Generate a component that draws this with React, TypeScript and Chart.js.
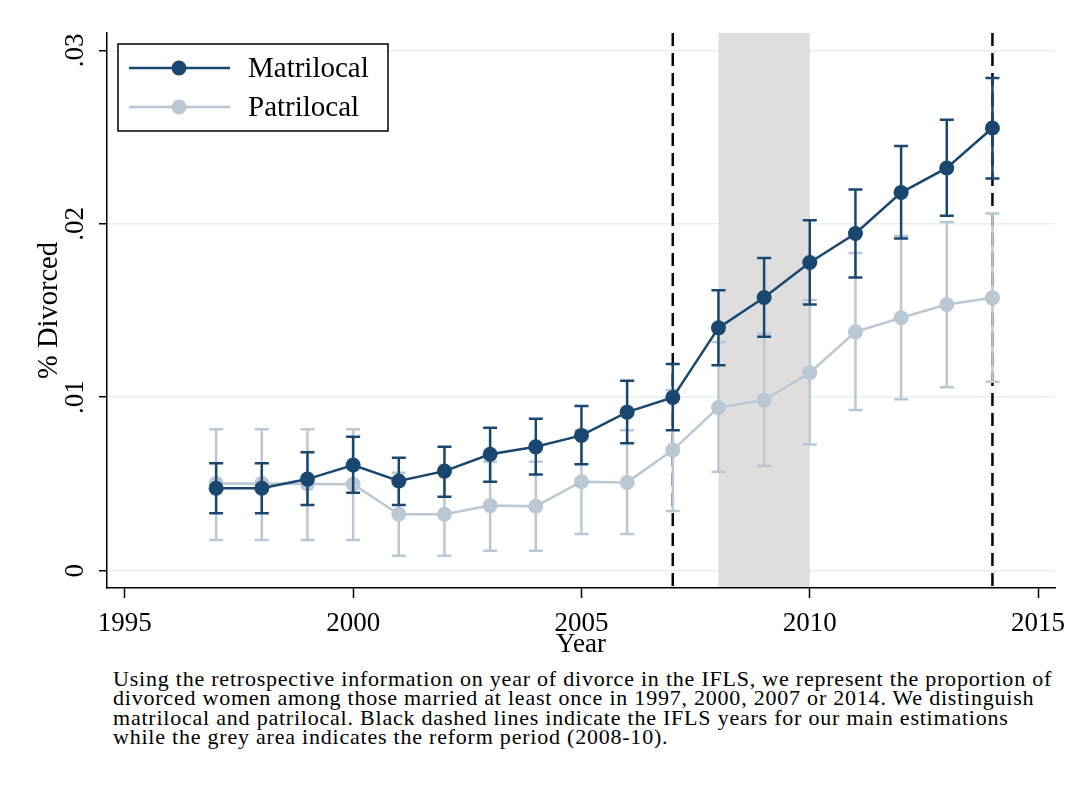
import React, { useEffect, useRef } from 'react';
import { Chart, registerables } from 'chart.js';

Chart.register(...registerables);

// ---------- data ----------
const years = [1997, 1998, 1999, 2000, 2001, 2002, 2003, 2004, 2005, 2006, 2007, 2008, 2009, 2010, 2011, 2012, 2013, 2014];

const matrilocal = [0.00475, 0.00475, 0.00528, 0.00609, 0.00517, 0.00574, 0.00671, 0.00714, 0.0078, 0.00914, 0.00999, 0.014, 0.01575, 0.01777, 0.01944, 0.0218, 0.02322, 0.02552];
const matrilocalLow = [0.00331, 0.00331, 0.00379, 0.00449, 0.00379, 0.00426, 0.00513, 0.00555, 0.00613, 0.00734, 0.0081, 0.01185, 0.01348, 0.01535, 0.0169, 0.01915, 0.02047, 0.02261];
const matrilocalHigh = [0.00619, 0.00619, 0.00682, 0.00772, 0.00651, 0.00714, 0.00824, 0.00876, 0.0095, 0.01095, 0.01191, 0.01617, 0.01803, 0.0202, 0.02197, 0.02449, 0.026, 0.0284];

const patrilocal = [0.00503, 0.00503, 0.005, 0.00498, 0.00325, 0.00325, 0.00375, 0.00372, 0.00513, 0.00509, 0.00695, 0.00941, 0.00983, 0.01141, 0.01377, 0.01458, 0.01535, 0.01573];
const patrilocalLow = [0.00177, 0.00177, 0.00177, 0.00177, 0.00086, 0.00086, 0.00115, 0.00115, 0.00211, 0.00211, 0.00344, 0.0057, 0.00603, 0.00728, 0.00926, 0.00989, 0.01057, 0.01089];
const patrilocalHigh = [0.00816, 0.00816, 0.00816, 0.00816, 0.00565, 0.00565, 0.00628, 0.00628, 0.0081, 0.0081, 0.01041, 0.01319, 0.01368, 0.0156, 0.01832, 0.0193, 0.0201, 0.02059];

const xTickValues = [1995, 2000, 2005, 2010, 2015];
const yTickValues = [0, 0.01, 0.02, 0.03];
const yTickLabels = ['0', '.01', '.02', '.03'];

const iflsYears = [2007, 2014];
const reformPeriod = [2008, 2010];

const seriesLabels = ['Matrilocal', 'Patrilocal'];

const captionLines = [
  'Using the retrospective information on year of divorce in the IFLS, we represent the proportion of',
  'divorced women among those married at least once in 1997, 2000, 2007 or 2014. We distinguish',
  'matrilocal and patrilocal. Black dashed lines indicate the IFLS years for our main estimations',
  'while the grey area indicates the reform period (2008-10).',
];

// ---------- style ----------
const NAVY = '#1a476f';
const LIGHT = '#bac8d4';
const FONT = '"Liberation Serif", "Times New Roman", serif';

const errLow = [matrilocalLow, patrilocalLow];
const errHigh = [matrilocalHigh, patrilocalHigh];

const overlayPlugin = {
  id: 'overlay',
  beforeDatasetsDraw(chart: any) {
    const { ctx, chartArea, scales } = chart;
    const x = scales.x;
    ctx.save();
    const x0 = x.getPixelForValue(reformPeriod[0]);
    const x1 = x.getPixelForValue(reformPeriod[1]);
    ctx.fillStyle = '#dedede';
    ctx.fillRect(x0, chartArea.top, x1 - x0, chartArea.bottom - chartArea.top - 1);
    ctx.strokeStyle = '#000';
    ctx.lineWidth = 2.5;
    ctx.setLineDash([13, 7]);
    for (const yr of iflsYears) {
      const px = x.getPixelForValue(yr);
      ctx.beginPath();
      ctx.moveTo(px, chartArea.top);
      ctx.lineTo(px, chartArea.bottom);
      ctx.stroke();
    }
    ctx.restore();
  },
  beforeDatasetDraw(chart: any, args: any) {
    const i = args.index;
    const { ctx, scales } = chart;
    const x = scales.x;
    const y = scales.y;
    const ds = chart.data.datasets[i];
    ctx.save();
    ctx.strokeStyle = ds.borderColor;
    ctx.lineWidth = 2.5;
    ctx.setLineDash([]);
    const half = 7;
    years.forEach((yr, k) => {
      const px = x.getPixelForValue(yr);
      const pl = y.getPixelForValue(errLow[i][k]);
      const ph = y.getPixelForValue(errHigh[i][k]);
      ctx.beginPath();
      ctx.moveTo(px, pl);
      ctx.lineTo(px, ph);
      ctx.moveTo(px - half, pl);
      ctx.lineTo(px + half, pl);
      ctx.moveTo(px - half, ph);
      ctx.lineTo(px + half, ph);
      ctx.stroke();
    });
    ctx.restore();
  },
  afterDraw(chart: any) {
    const { ctx, chartArea, scales } = chart;
    const y = scales.y;
    ctx.save();
    // y tick labels, rotated
    ctx.fillStyle = '#000';
    ctx.font = `27px ${FONT}`;
    ctx.textAlign = 'center';
    ctx.textBaseline = 'alphabetic';
    y.ticks.forEach((t: any, k: number) => {
      const py = y.getPixelForValue(t.value);
      ctx.save();
      ctx.translate(chartArea.left - 24, py);
      ctx.rotate(-Math.PI / 2);
      ctx.fillText(yTickLabels[k], 0, 0);
      ctx.restore();
    });
    // legend
    const bx = chartArea.left + 11;
    const by = chartArea.top + 11;
    ctx.fillStyle = '#fff';
    ctx.fillRect(bx, by, 270, 87);
    ctx.strokeStyle = '#000';
    ctx.lineWidth = 1.5;
    ctx.strokeRect(bx, by, 270, 87);
    chart.data.datasets.forEach((ds: any, k: number) => {
      const ry = by + 24 + k * 39;
      ctx.strokeStyle = ds.borderColor;
      ctx.lineWidth = 2.5;
      ctx.beginPath();
      ctx.moveTo(bx + 11, ry);
      ctx.lineTo(bx + 112, ry);
      ctx.stroke();
      ctx.fillStyle = ds.borderColor;
      ctx.beginPath();
      ctx.arc(bx + 61, ry, 7.5, 0, Math.PI * 2);
      ctx.fill();
      ctx.fillStyle = '#000';
      ctx.font = `29px ${FONT}`;
      ctx.textAlign = 'left';
      ctx.textBaseline = 'middle';
      ctx.fillText(ds.label, bx + 130, ry + 1);
    });
    ctx.restore();
  },
};

export default function App() {
  const ref = useRef<HTMLCanvasElement | null>(null);

  useEffect(() => {
    if (!ref.current) return;
    const mk = (vals: number[]) => years.map((yr, i) => ({ x: yr, y: vals[i] }));
    const chart = new Chart(ref.current, {
      type: 'line',
      data: {
        datasets: [
          {
            label: seriesLabels[0],
            data: mk(matrilocal),
            borderColor: NAVY,
            backgroundColor: NAVY,
            borderWidth: 2.5,
            pointRadius: 7.5,
            pointBorderWidth: 0,
            pointBackgroundColor: NAVY,
            tension: 0,
          },
          {
            label: seriesLabels[1],
            data: mk(patrilocal),
            borderColor: LIGHT,
            backgroundColor: LIGHT,
            borderWidth: 2.5,
            pointRadius: 7.5,
            pointBorderWidth: 0,
            pointBackgroundColor: LIGHT,
            tension: 0,
          },
        ],
      },
      options: {
        animation: false,
        responsive: false,
        layout: { padding: { top: 33, right: 24, left: 0, bottom: 0 } },
        plugins: {
          legend: { display: false },
          tooltip: { enabled: false },
        },
        scales: {
          x: {
            type: 'linear',
            min: 1994.61,
            max: 2015.37,
            afterBuildTicks: (s: any) => {
              s.ticks = xTickValues.map((v) => ({ value: v }));
            },
            afterFit: (s: any) => {
              s.height = 73;
            },
            grid: {
              drawOnChartArea: false,
              drawTicks: true,
              tickLength: 10,
              tickColor: '#000',
              tickWidth: 1.5,
            },
            border: { display: true, color: '#000', width: 1.5 },
            ticks: {
              color: '#000',
              font: { family: FONT, size: 27 },
              padding: 10,
              maxRotation: 0,
              autoSkip: false,
              callback: (v: any) => String(v),
            },
            title: {
              display: true,
              text: 'Year',
              color: '#000',
              font: { family: FONT, size: 27 },
              padding: { top: 0, bottom: 0 },
            },
          },
          y: {
            type: 'linear',
            min: -0.001,
            max: 0.031,
            afterBuildTicks: (s: any) => {
              s.ticks = yTickValues.map((v) => ({ value: v }));
            },
            afterFit: (s: any) => {
              s.width = 107;
            },
            grid: {
              color: '#e6eff1',
              lineWidth: 1.5,
              drawTicks: true,
              tickLength: 8,
              tickColor: '#000',
              tickWidth: 1.5,
            },
            border: { display: true, color: '#000', width: 1.5 },
            ticks: { display: false },
            title: {
              display: true,
              text: '% Divorced',
              color: '#000',
              font: { family: FONT, size: 28.5 },
              padding: { top: 32, bottom: 0 },
            },
          },
        },
      },
      plugins: [overlayPlugin],
    } as any);
    return () => chart.destroy();
  }, []);

  return (
    <div style={{ position: 'absolute', left: 0, top: 0, width: 1079, height: 789, background: '#fff', overflow: 'hidden' }}>
      <canvas ref={ref} width={1079} height={661} style={{ position: 'absolute', left: 0, top: 0, width: 1079, height: 661 }} />
      <div
        style={{
          position: 'absolute',
          left: 113,
          top: 669,
          fontFamily: FONT,
          fontSize: 22,
          letterSpacing: '0.78px',
          lineHeight: '19.4px',
          color: '#000',
          whiteSpace: 'nowrap',
        }}
      >
        {captionLines.map((l, i) => (
          <div key={i}>{l}</div>
        ))}
      </div>
    </div>
  );
}
